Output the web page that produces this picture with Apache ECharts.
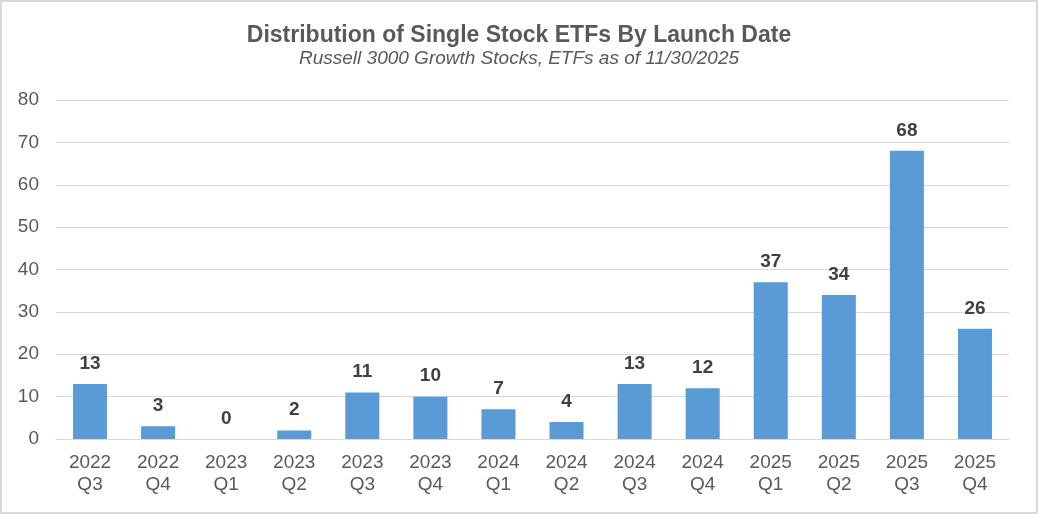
<!DOCTYPE html>
<html><head><meta charset="utf-8">
<script src="https://cdn.jsdelivr.net/npm/echarts@6/dist/echarts.min.js"></script>
<style>html,body{margin:0;padding:0;background:#fff}#c{width:1038px;height:514px;box-sizing:border-box;border:2px solid #d9d9d9}</style>
</head><body><div id="c"></div>
<script>
const categories = ['2022\nQ3','2022\nQ4','2023\nQ1','2023\nQ2','2023\nQ3','2023\nQ4','2024\nQ1','2024\nQ2','2024\nQ3','2024\nQ4','2025\nQ1','2025\nQ2','2025\nQ3','2025\nQ4'];
const etfCounts = [13,3,0,2,11,10,7,4,13,12,37,34,68,26];
const titleText = 'Distribution of Single Stock ETFs By Launch Date';
const subtitleText = 'Russell 3000 Growth Stocks, ETFs as of 11/30/2025';
const chart = echarts.init(document.getElementById('c'));
chart.setOption({
  animation:false,
  title:{text:titleText,subtext:subtitleText,left:'center',top:17,itemGap:2,
    textStyle:{fontFamily:'Liberation Sans',fontSize:23,fontWeight:'bold',color:'#595959'},
    subtextStyle:{fontFamily:'Liberation Sans',fontSize:19,fontStyle:'italic',color:'#595959'}},
  grid:{left:54,right:27,top:98,bottom:73},
  xAxis:{type:'category',data:categories,axisLine:{lineStyle:{color:'#d9d9d9',width:1}},axisTick:{show:false},
    axisLabel:{fontFamily:'Liberation Sans',fontSize:19,color:'#595959',lineHeight:22,margin:13}},
  yAxis:{type:'value',min:0,max:80,interval:10,axisLine:{show:false},axisTick:{show:false},
    splitLine:{lineStyle:{color:'#d9d9d9',width:1}},
    axisLabel:{fontFamily:'Liberation Sans',fontSize:19,color:'#595959',margin:17}},
  series:[{type:'bar',data:etfCounts,barWidth:'50%',itemStyle:{color:'#5b9bd5'},
    label:{show:true,position:'top',distance:11,fontFamily:'Liberation Sans',fontSize:19,fontWeight:'bold',color:'#404040'}}]
});
</script></body></html>
